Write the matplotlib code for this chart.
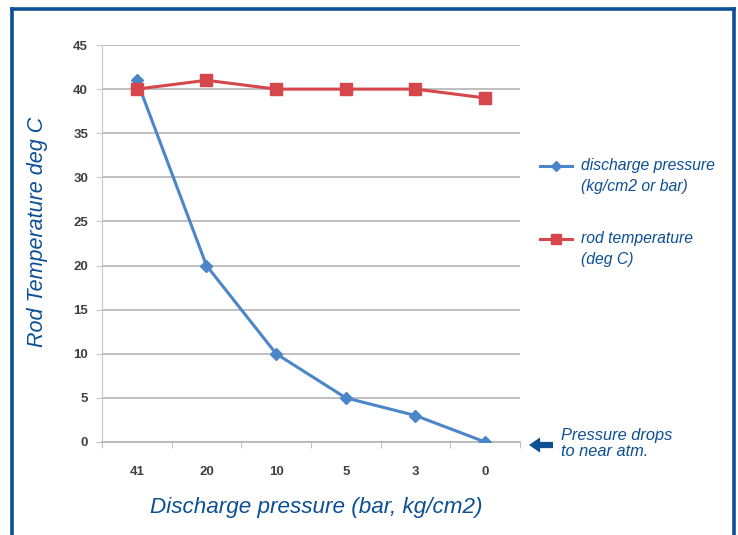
import matplotlib
matplotlib.use("Agg")
import matplotlib.pyplot as plt
from matplotlib.lines import Line2D

# data
categories = ["41", "20", "10", "5", "3", "0"]
discharge_pressure = [41, 20, 10, 5, 3, 0]
rod_temperature = [40, 41, 40, 40, 40, 39]
y_ticks = [0, 5, 10, 15, 20, 25, 30, 35, 40, 45]

blue_txt = "#0d4f95"
blue_line = "#4a86c8"
red_line = "#d6474b"
grid_col = "#b4b4b4"

plt.rcParams["font.family"] = ["Liberation Sans", "DejaVu Sans"]

fig = plt.figure(figsize=(7.38, 5.35), dpi=100)
W, H = 738, 535

# blue frame (left, top, right; open at bottom)
frame = dict(color=blue_txt, lw=2.6, transform=fig.transFigure, solid_capstyle="projecting")
fig.add_artist(Line2D([12 / W, 12 / W], [0, 1 - 9 / H], **frame))
fig.add_artist(Line2D([12 / W, 734 / W], [1 - 9 / H, 1 - 9 / H], **frame))
fig.add_artist(Line2D([734 / W, 734 / W], [0, 1 - 9 / H], **frame))

ax = fig.add_axes([102 / W, 1 - 442 / H, (520 - 102) / W, (442 - 45) / H])
x = list(range(len(categories)))

ax.plot(x, discharge_pressure, color=blue_line, lw=2.2, marker="D", ms=6,
        markeredgecolor=blue_line, zorder=3)
ax.plot(x, rod_temperature, color=red_line, lw=2.2, marker="s", ms=8,
        markeredgecolor=red_line, zorder=4)

ax.set_xlim(-0.5, len(categories) - 0.5)
ax.set_ylim(0, 45)
ax.set_yticks(y_ticks)
ax.set_xticks(x)
ax.set_xticklabels(categories)
ax.set_xticks([i - 0.5 for i in range(len(categories) + 1)], minor=True)

ax.grid(axis="y", color=grid_col, lw=1.2)
ax.set_axisbelow(True)
for s in ["top", "right"]:
    ax.spines[s].set_visible(False)
ax.spines["left"].set_color("#c8c8c8")
ax.spines["bottom"].set_color(grid_col)
ax.spines["bottom"].set_linewidth(1.2)

ax.tick_params(axis="x", which="major", length=0, pad=17, labelsize=9.5,
               labelcolor="#404040")
ax.tick_params(axis="x", which="minor", length=4, color=grid_col, direction="out")
ax.tick_params(axis="y", length=4, color="#c8c8c8", pad=6, labelsize=9.5,
               labelcolor="#404040")
for lab in ax.get_xticklabels() + ax.get_yticklabels():
    lab.set_fontweight("bold")

fig.text(38 / W, 1 - 232 / H, "Rod Temperature deg C", rotation=90, color=blue_txt,
         fontsize=15.5, style="italic", ha="center", va="center")
fig.text(316 / W, 1 - 507 / H, "Discharge pressure (bar, kg/cm2)", color=blue_txt,
         fontsize=16.2, style="italic", ha="center", va="center")

# legend drawn by hand to match the layout
fig.add_artist(Line2D([540 / W, 572 / W], [1 - 166 / H] * 2, color=blue_line, lw=2.2,
                      transform=fig.transFigure))
fig.add_artist(Line2D([556 / W], [1 - 166 / H], color=blue_line, marker="D", ms=5,
                      transform=fig.transFigure))
fig.add_artist(Line2D([540 / W, 572 / W], [1 - 239 / H] * 2, color=red_line, lw=2.2,
                      transform=fig.transFigure))
fig.add_artist(Line2D([556 / W], [1 - 239 / H], color=red_line, marker="s", ms=7,
                      transform=fig.transFigure))
fig.text(581 / W, 1 - 176 / H, "discharge pressure\n(kg/cm2 or bar)", color=blue_txt,
         fontsize=11.3, style="italic", ha="left", va="center", linespacing=1.5)
fig.text(581 / W, 1 - 249 / H, "rod temperature\n(deg C)", color=blue_txt,
         fontsize=11.3, style="italic", ha="left", va="center", linespacing=1.5)

# annotation
fig.text(561 / W, 1 - 443.5 / H, "Pressure drops\nto near atm.", color=blue_txt,
         fontsize=11.8, style="italic", ha="left", va="center", linespacing=1.05)
ax.annotate("", xy=(529, H - 445), xycoords="figure pixels",
            xytext=(553, H - 445), textcoords="figure pixels",
            arrowprops=dict(arrowstyle="simple,head_width=1.1,head_length=0.8,tail_width=0.45",
                            color=blue_txt, lw=0, shrinkA=0, shrinkB=0),
            annotation_clip=False)

fig.savefig("out.png", dpi=100)
